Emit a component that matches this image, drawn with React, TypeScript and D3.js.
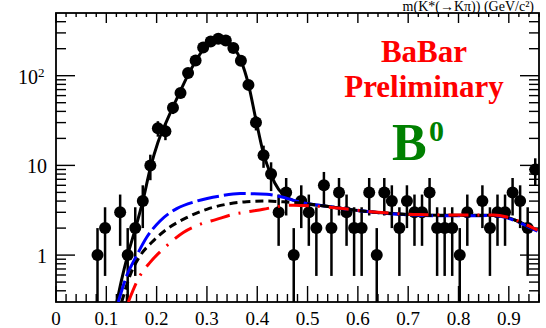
import React from 'react';
import * as d3 from 'd3';

const W = 546;
const H = 328;

// histogram: 64 bins of 0.015 from 0 to 0.96
const binWidth = 0.015;
const counts = [
  0, 0, 0, 0, 0, 1, 2, 0, 3, 1, 2, 4, 10, 26, 24, 44, 64, 107, 148, 206, 240, 258, 247, 203, 147, 79, 30, 13, 8, 3, 5, 1,
  4, 3, 2, 6, 2, 5, 3, 2, 2, 5, 1, 5, 4, 2, 4, 3, 3, 5, 2, 2, 2, 1, 3, 0, 4, 2, 3, 3, 5, 4, 2, 9,
];
const binCenters = counts.map((_, i) => binWidth * (i + 0.5));

// fitted curves: [x, value]
const totalFit: [number, number][] = [
  [0.121, 0.3], [0.13, 0.52], [0.1425, 1.0], [0.1575, 1.95], [0.1725, 4.0], [0.1875, 9.3], [0.2025, 18], [0.2175, 29],
  [0.2325, 45], [0.2475, 68], [0.2625, 102], [0.2775, 145], [0.2925, 195], [0.3075, 236], [0.3225, 256], [0.3375, 248],
  [0.3525, 210], [0.3675, 148], [0.3825, 80], [0.3975, 32], [0.4125, 13.5], [0.4275, 7.8], [0.4425, 5.4], [0.46, 4.4],
  [0.485, 3.85], [0.538, 3.5], [0.604, 3.12], [0.69, 2.85], [0.76, 2.78], [0.82, 2.78], [0.87, 2.78], [0.896, 2.65],
  [0.922, 2.33], [0.945, 2.03], [0.957, 1.88],
];
const blueBkg: [number, number][] = [
  [0.1238, 0.3], [0.1406, 0.59], [0.16, 0.98], [0.18, 1.57], [0.2068, 2.4], [0.24, 3.3], [0.28, 4.0], [0.326, 4.56],
  [0.366, 4.85], [0.419, 4.76], [0.445, 4.5], [0.485, 3.9], [0.538, 3.5], [0.604, 3.12], [0.69, 2.83], [0.757, 2.74],
  [0.816, 2.74], [0.869, 2.76], [0.896, 2.6], [0.922, 2.3], [0.945, 1.98], [0.957, 1.85],
];
const blackBkg: [number, number][] = [
  [0.1306, 0.3], [0.147, 0.59], [0.167, 0.98], [0.19, 1.38], [0.22, 1.94], [0.26, 2.62], [0.2996, 3.24], [0.339, 3.69],
  [0.379, 3.94], [0.419, 4.0], [0.445, 3.94], [0.485, 3.82], [0.538, 3.5], [0.604, 3.12], [0.69, 2.85], [0.76, 2.76],
  [0.82, 2.76], [0.87, 2.77], [0.896, 2.64], [0.922, 2.33], [0.945, 2.02], [0.957, 1.88],
];
const redBkg: [number, number][] = [
  [0.1437, 0.3], [0.167, 0.59], [0.187, 0.83], [0.22, 1.27], [0.253, 1.79], [0.286, 2.2], [0.319, 2.5], [0.3525, 2.85],
  [0.379, 3.03], [0.412, 3.24], [0.439, 3.47], [0.472, 3.6], [0.52, 3.5], [0.57, 3.3], [0.64, 3.0], [0.72, 2.83],
  [0.8, 2.8], [0.87, 2.8], [0.896, 2.66], [0.922, 2.36], [0.945, 2.05], [0.957, 1.9],
];

const xTickLabels = ['0', '0.1', '0.2', '0.3', '0.4', '0.5', '0.6', '0.7', '0.8', '0.9'];
const yDecades = [1, 10, 100];

export default function App() {
  const x = d3.scaleLinear().domain([0, 0.96]).range([56, 539]);
  const y = d3.scaleLog().domain([0.3, 500]).range([302, 13]);
  const [x0, x1] = x.range();
  const [yb, yt] = y.range();
  const line = d3
    .line<[number, number]>()
    .x((d) => x(d[0]))
    .y((d) => y(d[1]))
    .curve(d3.curveMonotoneX);

  const xTicks = d3.range(0, 49).map((i) => ({ v: i * 0.02, major: i % 5 === 0 }));
  const yTicks: { v: number; major: boolean }[] = [];
  for (let d = -1; d <= 2; d++) {
    for (let m = 1; m <= 9; m++) {
      const v = m * Math.pow(10, d);
      if (v > 0.3 + 1e-9 && v < 500 - 1e-9) yTicks.push({ v, major: m === 1 });
    }
  }

  const font = "'Liberation Serif', 'Times New Roman', serif";

  return (
    <svg
      width={W}
      height={H}
      style={{ position: 'absolute', left: 0, top: 0, background: '#fff' }}
      fontFamily={font}
    >
      <defs>
        <clipPath id="plotArea">
          <rect x={x0} y={yt} width={x1 - x0} height={yb - yt} />
        </clipPath>
      </defs>

      {/* axis title near the top edge */}
      <text x={534} y={11} textAnchor="end" fontSize={14} fill="#000" fontFamily={font}>
        m(K*(→Kπ)) (GeV/c²)
      </text>

      {/* frame */}
      <rect x={x0} y={yt} width={x1 - x0} height={yb - yt} fill="none" stroke="#000" strokeWidth={1.8} />

      {/* x ticks bottom and top */}
      {xTicks.map((t, i) => (
        <g key={'xt' + i} stroke="#000" strokeWidth={1.4}>
          <line x1={x(t.v)} x2={x(t.v)} y1={yb} y2={yb - (t.major ? 16 : 8)} />
          <line x1={x(t.v)} x2={x(t.v)} y1={yt} y2={yt + (t.major ? 10 : 4)} />
        </g>
      ))}
      {xTickLabels.map((l, i) => (
        <text key={'xl' + i} x={x(i * 0.1)} y={325} textAnchor="middle" fontSize={19} fill="#000" fontFamily={font}>
          {l}
        </text>
      ))}

      {/* y ticks left and right */}
      {yTicks.map((t, i) => (
        <g key={'yt' + i} stroke="#000" strokeWidth={1.4}>
          <line x1={x0} x2={x0 + (t.major ? 19 : 10)} y1={y(t.v)} y2={y(t.v)} />
          <line x1={x1} x2={x1 - (t.major ? 19 : 10)} y1={y(t.v)} y2={y(t.v)} />
        </g>
      ))}
      {yDecades.map((v) => (
        <text key={'yl' + v} x={v === 100 ? 38 : 47} y={y(v) + 8} textAnchor="end" fontSize={20} fill="#000" fontFamily={font}>
          {v === 100 ? '10' : String(v)}
        </text>
      ))}
      <text x={38} y={y(100) + 1} fontSize={13} fill="#000" fontFamily={font}>
        2
      </text>

      <g clipPath="url(#plotArea)">
        {/* data points with sqrt(N) errors */}
        {counts.map((n, i) =>
          n > 0 ? (
            <g key={'p' + i}>
              <line
                x1={x(binCenters[i])}
                x2={x(binCenters[i])}
                y1={y(n + Math.sqrt(n))}
                y2={y(Math.max(n - Math.sqrt(n), 0.3))}
                stroke="#000"
                strokeWidth={2.5}
              />
              <circle cx={x(binCenters[i])} cy={y(n)} r={6} fill="#000" />
            </g>
          ) : null
        )}

        {/* fit curves */}
        <path d={line(totalFit) || ''} fill="none" stroke="#000" strokeWidth={3} />
        <path d={line(blueBkg) || ''} fill="none" stroke="#0000ff" strokeWidth={3} strokeDasharray="22 5" />
        <path d={line(blackBkg) || ''} fill="none" stroke="#000" strokeWidth={3} strokeDasharray="8 5" />
        <path d={line(redBkg) || ''} fill="none" stroke="#ff0000" strokeWidth={3} strokeDasharray="20 9 2 9" />
      </g>

      {/* labels */}
      <text x={424} y={62} textAnchor="middle" fontSize={31} fontWeight="bold" fill="#ff0000" fontFamily={font}>
        BaBar
      </text>
      <text x={424} y={97} textAnchor="middle" fontSize={31} fontWeight="bold" fill="#ff0000" fontFamily={font}>
        Preliminary
      </text>
      <text x={392} y={160} fontSize={52} fontWeight="bold" fill="#008000" fontFamily={font}>
        B
      </text>
      <text x={429} y={141} fontSize={30} fontWeight="bold" fill="#008000" fontFamily={font}>
        0
      </text>
    </svg>
  );
}
